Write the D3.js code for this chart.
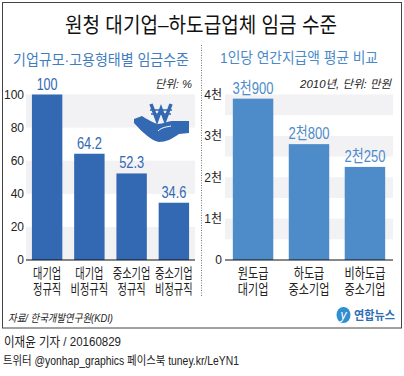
<!DOCTYPE html>
<html>
<head>
<meta charset="utf-8">
<script src="https://cdn.jsdelivr.net/npm/d3@7"></script>
<style>
  html, body { margin: 0; padding: 0; background: #fff; }
  svg { display: block; }
  text { font-family: "Liberation Sans", "Noto Sans CJK KR", sans-serif; }
  .axis path, .axis line { display: none; }
  .axis text { font-size: 12px; fill: #222; }
</style>
</head>
<body>
<script>
let w = 404;
let h = 376;

// left chart
let leftCats = [["대기업", "정규직"], ["대기업", "비정규직"], ["중소기업", "정규직"], ["중소기업", "비정규직"]];
let leftValues = [100, 64.2, 52.3, 34.6];
let leftLabels = ["100", "64.2", "52.3", "34.6"];
let leftTicks = [0, 20, 40, 60, 80, 100];
let leftBands = [[80, 100], [40, 60], [0, 20]];

// right chart
let rightCats = [["원도급", "대기업"], ["하도급", "중소기업"], ["비하도급", "중소기업"]];
let rightValues = [3900, 2800, 2250];
let rightLabels = ["3천900", "2천800", "2천250"];
let rightTicks = [0, 1000, 2000, 3000, 4000];
let rightTickLabels = ["0", "1천", "2천", "3천", "4천"];
let rightBands = [[3500, 4000], [2500, 3000], [1500, 2000], [500, 1000]];

let svg = d3.select("body").append("svg")
  .attr("width", w)
  .attr("height", h);

svg.append("rect").attr("width", w).attr("height", h).attr("fill", "#fff");

// Frame
svg.append("rect")
  .attr("x", 2.5).attr("y", 2.5)
  .attr("width", 399).attr("height", 325.5)
  .attr("fill", "none")
  .attr("stroke", "#444")
  .attr("stroke-width", 1);

// helper: text squeezed to the width it has in the picture
function label(x, y, str, size, color, width, anchor, style) {
  let t = svg.append("text")
    .attr("x", x).attr("y", y)
    .attr("font-size", size)
    .attr("fill", color)
    .attr("text-anchor", anchor || "middle")
    .text(str);
  if (width) t.attr("textLength", width).attr("lengthAdjust", "spacingAndGlyphs");
  if (style) t.attr("font-style", style);
  return t;
}

label(201, 32, "원청 대기업–하도급업체 임금 수준", 21, "#111", 272);
label(101, 65, "기업규모·고용형태별 임금수준", 15, "#3f7cc0", 176);
label(299, 63, "1인당 연간지급액 평균 비교", 15, "#4a8ac8", 158);

// Divider
svg.append("line")
  .attr("x1", 201.5).attr("x2", 201.5)
  .attr("y1", 45).attr("y2", 297)
  .attr("stroke", "#777")
  .attr("stroke-dasharray", "1,1.5");

function drawChart(opts) {
  let x = d3.scaleBand()
    .domain(d3.range(opts.values.length))
    .range(opts.xRange)
    .paddingInner(opts.padIn)
    .paddingOuter(opts.padOut);

  let y = d3.scaleLinear()
    .domain(opts.domain)
    .range([260, 94.5]);

  // stripes
  svg.append("g").selectAll("rect")
    .data(opts.bands)
    .enter()
    .append("rect")
    .attr("x", opts.xRange[0])
    .attr("width", opts.xRange[1] - opts.xRange[0])
    .attr("y", (d) => { return y(d[1]); })
    .attr("height", (d) => { return y(d[0]) - y(d[1]); })
    .attr("fill", "#f2f2f4");

  // bars
  svg.append("g").selectAll("rect")
    .data(opts.values)
    .enter()
    .append("rect")
    .attr("x", (d, i) => { return x(i); })
    .attr("width", x.bandwidth())
    .attr("y", (d) => { return y(d); })
    .attr("height", (d) => { return y(0) - y(d); })
    .attr("fill", opts.color);

  // value labels
  svg.append("g").selectAll("text")
    .data(opts.values)
    .enter()
    .append("text")
    .attr("x", (d, i) => { return x(i) + x.bandwidth() / 2; })
    .attr("y", (d) => { return y(d) - 5; })
    .attr("text-anchor", "middle")
    .attr("font-size", 17)
    .attr("fill", opts.color)
    .attr("textLength", (d, i) => { return opts.labelWidths[i]; })
    .attr("lengthAdjust", "spacingAndGlyphs")
    .text((d, i) => { return opts.labels[i]; });

  // y axis
  let yAxis = d3.axisLeft(y)
    .tickValues(opts.ticks)
    .tickSize(0)
    .tickPadding(opts.tickPad)
    .tickFormat((d, i) => { return opts.tickLabels[i]; });

  svg.append("g")
    .attr("class", "axis")
    .attr("transform", "translate(" + opts.xRange[0] + ",0)")
    .call(yAxis);

  // baseline
  svg.append("line")
    .attr("x1", opts.xRange[0]).attr("x2", opts.xRange[1])
    .attr("y1", y(0)).attr("y2", y(0))
    .attr("stroke", "#111")
    .attr("stroke-width", 1);

  // categories
  let cat = svg.append("g").selectAll("g")
    .data(opts.cats)
    .enter()
    .append("g");
  [0, 1].forEach((line) => {
    cat.append("text")
      .attr("x", (d, i) => { return x(i) + x.bandwidth() / 2; })
      .attr("y", line === 0 ? 277.5 : 293.5)
      .attr("text-anchor", "middle")
      .attr("font-size", 14)
      .attr("fill", "#222")
      .attr("textLength", (d) => { return d[line].length * opts.charWidth; })
      .attr("lengthAdjust", "spacingAndGlyphs")
      .text((d) => { return d[line]; });
  });
}

drawChart({
  values: leftValues, labels: leftLabels, labelWidths: [21, 25, 25, 25],
  cats: leftCats, ticks: leftTicks, tickLabels: leftTicks, bands: leftBands,
  domain: [0, 100], xRange: [26, 195], padIn: 0.28, padOut: 0.14, color: "#3368b3",
  charWidth: 9.4, tickPad: 2
});

drawChart({
  values: rightValues, labels: rightLabels, labelWidths: [41, 41, 41],
  cats: rightCats, ticks: rightTicks, tickLabels: rightTickLabels, bands: rightBands,
  domain: [0, 4000], xRange: [225, 393], padIn: 0.277, padOut: 0.14, color: "#4d8bc9",
  charWidth: 10.2, tickPad: 3
});

// Units and source
label(192, 88, "단위: %", 11.5, "#222", 37, "end", "italic");
label(391, 88, "2010년, 단위: 만원", 11.5, "#222", 91, "end", "italic");
label(8, 322, "자료/ 한국개발연구원(KDI)", 11, "#222", 105, "start", "italic");

// Footer
label(4, 346, "이재윤 기자 / 20160829", 13, "#222", 117, "start");
label(3, 365, "트위터 @yonhap_graphics  페이스북 tuney.kr/LeYN1", 12, "#222", 236, "start");

// Won-in-hand icon
let icon = svg.append("g");
icon.append("path")
  .attr("fill", "#3368b3")
  .attr("d", "M134 119 L142 116 C147 119 153 123 158 124 C163 124 168 121 172 121 L189 121 L189 133 L179 134 C172 139 166 142 159 142 C152 141 142 132 134 123 Z");
icon.append("path")
  .attr("fill", "none")
  .attr("stroke", "#fff")
  .attr("d", "M158 131 C162 127 167 127 171 126");
icon.append("path")
  .attr("fill", "none")
  .attr("stroke", "#3368b3")
  .attr("stroke-width", 3.5)
  .attr("d", "M151 104 L157 120 L161 109 L165 120 L171 104");
icon.append("path")
  .attr("fill", "none")
  .attr("stroke", "#3368b3")
  .attr("stroke-width", 1.6)
  .attr("d", "M150 110 L172 110 M151 114 L171 114");

// Yonhap logo
svg.append("ellipse")
  .attr("cx", 343.5).attr("cy", 315).attr("rx", 7).attr("ry", 8)
  .attr("fill", "#2f8fd0");
svg.append("text")
  .attr("x", 343.5).attr("y", 319)
  .attr("text-anchor", "middle")
  .attr("font-size", 12)
  .attr("font-style", "italic")
  .attr("fill", "#fff")
  .text("y");
label(354, 320, "연합뉴스", 12, "#2d6fb4", 41, "start").attr("font-weight", "bold");
</script>
</body>
</html>
